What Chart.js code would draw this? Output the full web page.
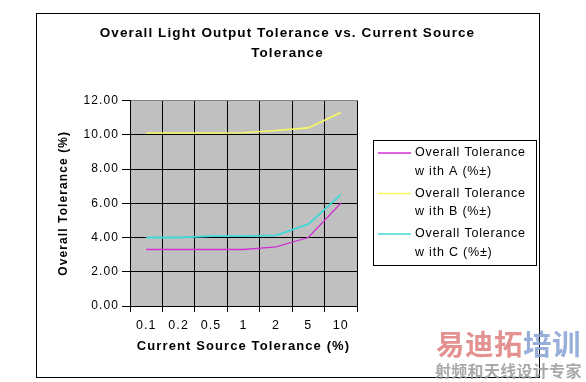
<!DOCTYPE html>
<html><head><meta charset="utf-8">
<script src="https://cdn.jsdelivr.net/npm/chart.js@4/dist/chart.umd.min.js"></script>
<style>
html,body{margin:0;padding:0;background:#fff;}
#wrap{position:relative;width:586px;height:382px;overflow:hidden;}
canvas{display:block;}
.wm{position:absolute;font-family:"Noto Sans CJK SC";font-weight:bold;white-space:nowrap;opacity:0.85;}
</style></head><body>
<div id="wrap"><canvas id="c" width="586" height="382"></canvas>
<div class="wm" style="left:436px;top:326px;font-size:28.5px;line-height:34px;letter-spacing:0.5px;"><span style="color:#e07e7e">易迪拓</span><span style="color:#86a2d4">培训</span></div>
<div class="wm" style="left:435px;top:360px;font-size:16px;line-height:20px;letter-spacing:0.3px;color:#9a9a9a;">射频和天线设计专家</div>
</div>
<script>
const categories = ['0.1', '0.2', '0.5', '1', '2', '5', '10'];
const toleranceA = [3.3, 3.3, 3.3, 3.3, 3.45, 4.0, 6.0];
const toleranceB = [10.1, 10.1, 10.1, 10.12, 10.25, 10.4, 11.3];
const toleranceC = [4.0, 4.0, 4.08, 4.08, 4.12, 4.78, 6.5];
const seriesLabels = [
  ['Overall Tolerance', 'w ith A (%±)'],
  ['Overall Tolerance', 'w ith B (%±)'],
  ['Overall Tolerance', 'w ith C (%±)']
];
const titleLines = ['Overall Light Output Tolerance vs. Current Source', 'Tolerance'];
const yTitle = 'Overall Tolerance (%)';
const xTitle = 'Current Source Tolerance (%)';

const FONT = '"Liberation Sans", Arial, sans-serif';

const framePlugin = {
  id: 'frame',
  beforeDraw(chart) {
    const ctx = chart.ctx, a = chart.chartArea;
    ctx.letterSpacing = '1.1px';
    ctx.save();
    ctx.fillStyle = '#fff';
    ctx.fillRect(0, 0, chart.width, chart.height);
    ctx.fillStyle = '#C0C0C0';
    ctx.fillRect(a.left, a.top, a.right - a.left, a.bottom - a.top);
    ctx.strokeStyle = '#000';
    ctx.lineWidth = 1;
    ctx.strokeRect(36.5, 13.5, 503, 364);
    ctx.restore();
  },
  afterDraw(chart) {
    const ctx = chart.ctx;
    ctx.save();
    ctx.fillStyle = '#fff';
    ctx.fillRect(373.5, 140.5, 163, 125);
    ctx.strokeStyle = '#000';
    ctx.lineWidth = 1;
    ctx.strokeRect(373.5, 140.5, 163, 125);
    ctx.letterSpacing = '0.8px';
    ctx.font = '12.5px ' + FONT;
    ctx.textBaseline = 'middle';
    ctx.textAlign = 'left';
    chart.data.datasets.forEach((ds, i) => {
      const y = 153 + i * 40.5;
      ctx.strokeStyle = ds.borderColor;
      ctx.lineWidth = 1.5;
      ctx.beginPath();
      ctx.moveTo(378, y);
      ctx.lineTo(411, y);
      ctx.stroke();
      ctx.fillStyle = '#000';
      ds.label.forEach((t, j) => ctx.fillText(t, 415, y + j * 18.5));
    });
    ctx.restore();
    ctx.letterSpacing = '0px';
  }
};

new Chart(document.getElementById('c'), {
  type: 'line',
  data: {
    labels: categories,
    datasets: [
      { label: seriesLabels[0], data: toleranceA, borderColor: '#d030d0', borderWidth: 1.3 },
      { label: seriesLabels[1], data: toleranceB, borderColor: '#f8f860', borderWidth: 1.6 },
      { label: seriesLabels[2], data: toleranceC, borderColor: '#40d8d8', borderWidth: 1.8 }
    ]
  },
  options: {
    responsive: false,
    animation: false,
    devicePixelRatio: 1,
    layout: { padding: { top: 14, left: 36, right: 47, bottom: 26 } },
    elements: { point: { radius: 0 }, line: { tension: 0 } },
    plugins: {
      legend: { display: false },
      tooltip: { enabled: false },
      title: {
        display: true,
        text: titleLines,
        color: '#000',
        font: { family: FONT, size: 13.5, weight: 'bold', lineHeight: 1.5 },
        padding: { top: 9, bottom: 37 }
      }
    },
    scales: {
      x: {
        type: 'category',
        offset: true,
        grid: {
          offset: true,
          color: (c) => c.index === categories.length ? '#808080' : '#000',
          tickColor: '#000',
          tickLength: 6,
          lineWidth: 1
        },
        border: { color: '#000', width: 1 },
        ticks: { color: '#000', font: { family: FONT, size: 12.5 }, padding: 6, maxRotation: 0, autoSkip: false },
        title: { display: true, text: xTitle, color: '#000', font: { family: FONT, size: 13, weight: 'bold' }, padding: { top: 0, bottom: 2 } },
        afterFit(s) { s.height = 50; }
      },
      y: {
        min: 0, max: 12,
        ticks: { stepSize: 2, color: '#000', font: { family: FONT, size: 12 }, padding: 3, callback: (v) => Number(v).toFixed(2) },
        grid: {
          color: (c) => (c.tick && c.tick.value === 12) ? '#808080' : '#000',
          tickColor: '#000',
          tickLength: 8,
          lineWidth: 1
        },
        border: { color: '#000', width: 1 },
        title: { display: true, text: yTitle, color: '#000', font: { family: FONT, size: 12, weight: 'bold' }, padding: { top: 20, bottom: 0 } },
        afterFit(s) { s.width = 94; }
      },
      spacer: {
        type: 'linear',
        position: 'right',
        display: true,
        grid: { display: false },
        border: { display: false },
        ticks: { display: false },
        title: { display: false },
        afterFit(s) { s.width = 182; }
      }
    }
  },
  plugins: [framePlugin]
});
</script>
</body></html>
